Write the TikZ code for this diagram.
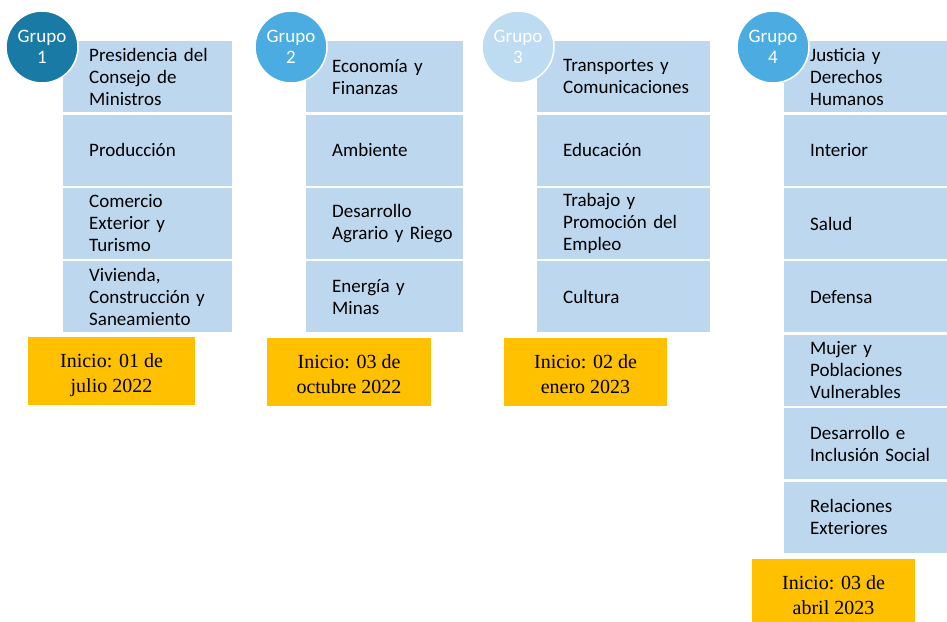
\documentclass[tikz,border=0pt]{standalone}
\usepackage{fontspec}
\setmainfont{Liberation Serif}
\newfontfamily\grupofont{Carlito}
\usepackage{tikz}
\usetikzlibrary{positioning}

\definecolor{cajaazul}{RGB}{189,215,238}
\definecolor{grupouno}{RGB}{25,123,165}
\definecolor{grupodos}{RGB}{75,172,226}
\definecolor{grupotres}{RGB}{189,219,241}
\definecolor{inicioamarillo}{RGB}{255,192,0}

\begin{document}
\begin{tikzpicture}[
  x=1pt, y=-1pt,
  node distance=2pt,
  sector/.style={rectangle, fill=cajaazul, text width=#1, minimum height=71pt,
    inner xsep=0pt, inner ysep=0pt, align=left,
    font=\grupofont\fontsize{19}{22}\selectfont,
    execute at begin node={\leftskip=26pt}},
  grupo/.style={circle, fill=#1, draw=white, line width=1.5pt, minimum size=72pt,
    inner sep=0pt, text=white, align=center,
    font=\grupofont\fontsize{19}{21}\selectfont},
  inicio/.style={rectangle, fill=inicioamarillo, minimum width=#1, minimum height=68pt,
    inner sep=0pt, align=center, text height=46pt, text depth=4pt,
    font=\fontsize{20}{25}\selectfont}
]
\clip (0,0) rectangle (947,621);

% Grupo 1
\node[sector=169pt, anchor=north west] (g1a) at (63,41) {Presidencia del\\Consejo de\\Ministros};
\node[sector=169pt, below=of g1a] (g1b) {Producción};
\node[sector=169pt, below=of g1b] (g1c) {Comercio\\Exterior y\\Turismo};
\node[sector=169pt, below=of g1c] (g1d) {Vivienda,\\Construcción y\\Saneamiento};

% Grupo 2
\node[sector=157pt, anchor=north west] (g2a) at (306,41) {Economía y\\Finanzas};
\node[sector=157pt, below=of g2a] (g2b) {Ambiente};
\node[sector=157pt, below=of g2b] (g2c) {Desarrollo\\Agrario y Riego};
\node[sector=157pt, below=of g2c] (g2d) {Energía y\\Minas};

% Grupo 3
\node[sector=173pt, anchor=north west] (g3a) at (537,41) {Transportes y\\Comunicaciones};
\node[sector=173pt, below=of g3a] (g3b) {Educación};
\node[sector=173pt, below=of g3b] (g3c) {Trabajo y\\Promoción del\\Empleo};
\node[sector=173pt, below=of g3c] (g3d) {Cultura};

% Grupo 4
\node[sector=163pt, anchor=north west] (g4a) at (784,41) {Justicia y\\Derechos\\Humanos};
\node[sector=163pt, below=of g4a] (g4b) {Interior};
\node[sector=163pt, below=of g4b] (g4c) {Salud};
\node[sector=163pt, below=of g4c] (g4d) {Defensa};
\node[sector=163pt, below=of g4d] (g4e) {Mujer y\\Poblaciones\\Vulnerables};
\node[sector=163pt, below=of g4e] (g4f) {Desarrollo e\\Inclusión Social};
\node[sector=163pt, below=of g4f] (g4g) {Relaciones\\Exteriores};

% Circulos
\node[grupo=grupouno] (c1) at (42,47) {Grupo\\1};
\node[grupo=grupodos] (c2) at (291,47) {Grupo\\2};
\node[grupo=grupotres] (c3) at (518,47) {Grupo\\3};
\node[grupo=grupodos] (c4) at (773,47) {Grupo\\4};

% Fechas de inicio
\node[inicio=167pt] (i1) at (111.5,371) {Inicio: 01 de\\julio 2022};
\node[inicio=164pt] (i2) at (349,372) {Inicio: 03 de\\octubre 2022};
\node[inicio=163pt] (i3) at (585.5,372) {Inicio: 02 de\\enero 2023};
\node[inicio=163pt] (i4) at (833.5,593) {Inicio: 03 de\\abril 2023};

\end{tikzpicture}
\end{document}
